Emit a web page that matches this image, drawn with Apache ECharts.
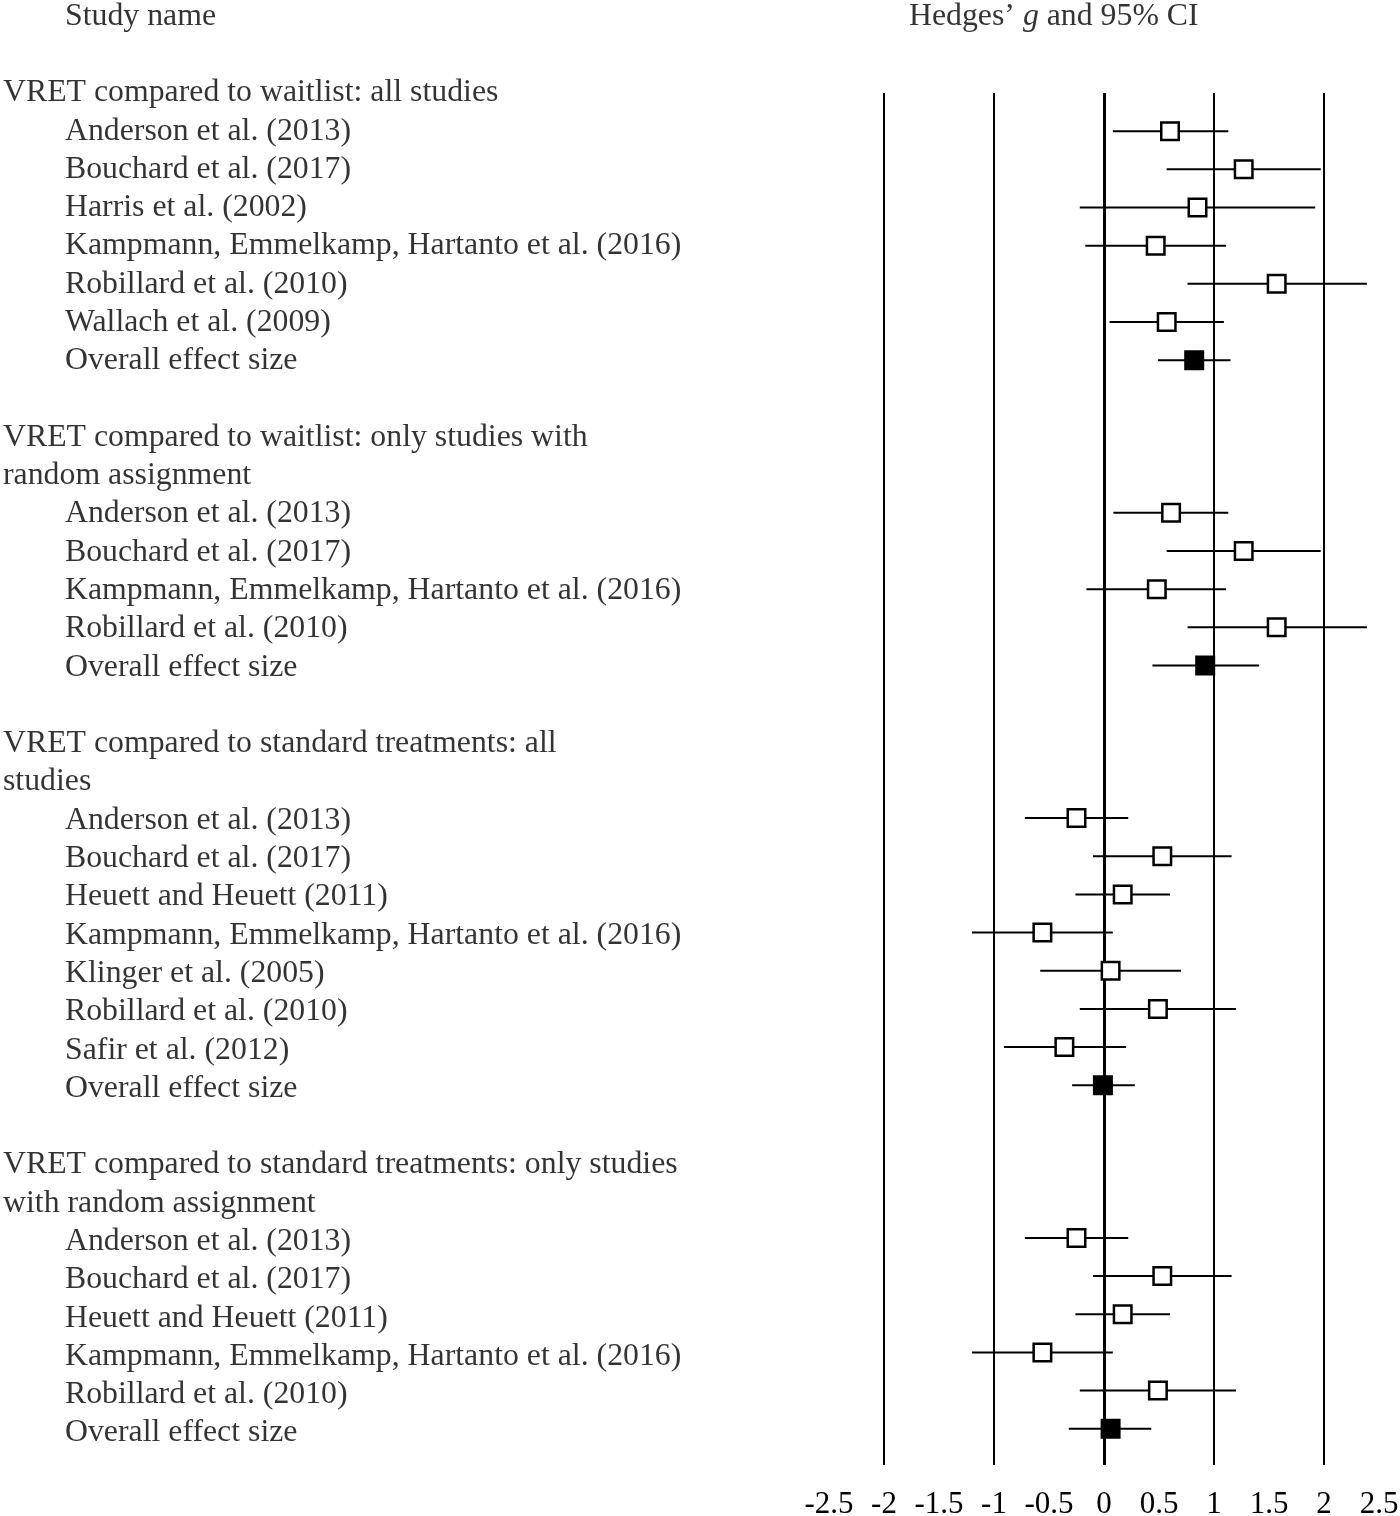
<!DOCTYPE html>
<html>
<head>
<meta charset="utf-8">
<style>html,body{margin:0;padding:0;background:#fff;}#c{width:1400px;height:1516px;}</style>
<script src="https://cdn.jsdelivr.net/npm/echarts@6/dist/echarts.min.js"></script>
</head>
<body>
<div id="c"></div>
<script>
// ---------- data ----------
const columnTitleLeft = "Study name";
const columnTitleRight = "Hedges’ {i|g} and 95% CI";

const groupTitles = [
  ["VRET compared to waitlist: all studies"],
  ["VRET compared to waitlist: only studies with", "random assignment"],
  ["VRET compared to standard treatments: all", "studies"],
  ["VRET compared to standard treatments: only studies", "with random assignment"]
];

const g1Studies = ["Anderson et al. (2013)", "Bouchard et al. (2017)", "Harris et al. (2002)", "Kampmann, Emmelkamp, Hartanto et al. (2016)", "Robillard et al. (2010)", "Wallach et al. (2009)", "Overall effect size"];
const g1Est  = [0.60, 1.27, 0.85, 0.47, 1.57, 0.57, 0.82];
const g1Low  = [0.08, 0.57, -0.22, -0.17, 0.76, 0.05, 0.49];
const g1High = [1.13, 1.97, 1.92, 1.11, 2.39, 1.09, 1.15];

const g2Studies = ["Anderson et al. (2013)", "Bouchard et al. (2017)", "Kampmann, Emmelkamp, Hartanto et al. (2016)", "Robillard et al. (2010)", "Overall effect size"];
const g2Est  = [0.61, 1.27, 0.48, 1.57, 0.92];
const g2Low  = [0.085, 0.57, -0.16, 0.76, 0.44];
const g2High = [1.13, 1.97, 1.11, 2.39, 1.41];

const g3Studies = ["Anderson et al. (2013)", "Bouchard et al. (2017)", "Heuett and Heuett (2011)", "Kampmann, Emmelkamp, Hartanto et al. (2016)", "Klinger et al. (2005)", "Robillard et al. (2010)", "Safir et al. (2012)", "Overall effect size"];
const g3Est  = [-0.25, 0.53, 0.17, -0.56, 0.06, 0.49, -0.36, -0.01];
const g3Low  = [-0.72, -0.10, -0.26, -1.20, -0.58, -0.22, -0.91, -0.29];
const g3High = [0.22, 1.16, 0.60, 0.08, 0.70, 1.20, 0.20, 0.28];

const g4Studies = ["Anderson et al. (2013)", "Bouchard et al. (2017)", "Heuett and Heuett (2011)", "Kampmann, Emmelkamp, Hartanto et al. (2016)", "Robillard et al. (2010)", "Overall effect size"];
const g4Est  = [-0.25, 0.53, 0.17, -0.56, 0.49, 0.06];
const g4Low  = [-0.72, -0.10, -0.26, -1.20, -0.22, -0.32];
const g4High = [0.22, 1.16, 0.60, 0.08, 1.20, 0.43];

const xTickMin = -2.5, xTickMax = 2.5, xTickStep = 0.5;
const referenceLines = [-2, -1, 0, 1, 2];

// ---------- build rows ----------
const groups = [
  {titles: groupTitles[0], studies: g1Studies, est: g1Est, low: g1Low, high: g1High},
  {titles: groupTitles[1], studies: g2Studies, est: g2Est, low: g2Low, high: g2High},
  {titles: groupTitles[2], studies: g3Studies, est: g3Est, low: g3Low, high: g3High},
  {titles: groupTitles[3], studies: g4Studies, est: g4Est, low: g4Low, high: g4High}
];

const HEAD_X = 3, STUDY_X = 65;
const textItems = [];
const markItems = [];
let row = 0;
textItems.push({value: [STUDY_X, -2], name: columnTitleLeft});
textItems.push({value: [909, -2], name: columnTitleRight});
groups.forEach((g, gi) => {
  g.titles.forEach(t => { textItems.push({value: [HEAD_X, row], name: t}); row++; });
  g.studies.forEach((s, i) => {
    textItems.push({value: [STUDY_X, row], name: s});
    const overall = (i === g.studies.length - 1) ? 1 : 0;
    markItems.push([g.low[i], g.high[i], g.est[i], row, overall]);
    row++;
  });
  row++; // blank row between groups
});

const FONT = "'Liberation Serif', 'Times New Roman', serif";
const chart = echarts.init(document.getElementById('c'), null, {renderer: 'canvas'});

const TEXT_STEP = 38.286;
const TEXT_TOP = 93;
const option = {
  animation: false,
  backgroundColor: '#fff',
  grid: [
    {left: 829, right: 21, top: 93, bottom: 51, outerBoundsMode: 'none', containLabel: false},
    {left: 0, right: 0, top: TEXT_TOP - 2 * TEXT_STEP, bottom: 1516 - (TEXT_TOP + 36 * TEXT_STEP), outerBoundsMode: 'none', containLabel: false}
  ],
  xAxis: [
    {
      gridIndex: 0, type: 'value', min: xTickMin, max: xTickMax, interval: xTickStep,
      axisLine: {show: false}, axisTick: {show: false}, splitLine: {show: false},
      axisLabel: {color: '#000', fontFamily: FONT, fontSize: 31, margin: 24, showMinLabel: true, showMaxLabel: true}
    },
    {gridIndex: 1, type: 'value', min: 0, max: 1400, show: false}
  ],
  yAxis: [
    {gridIndex: 0, type: 'value', min: 0, max: 35.95, inverse: true, show: false},
    {gridIndex: 1, type: 'value', min: -2, max: 36, inverse: true, show: false}
  ],
  series: [
    {
      type: 'line', xAxisIndex: 0, yAxisIndex: 0, data: [], z: 1, silent: true,
      markLine: {
        silent: true, symbol: ['none', 'none'], label: {show: false},
        lineStyle: {color: '#000', type: 'solid', width: 2},
        data: referenceLines.map(v => ({xAxis: v, lineStyle: {color: '#000', type: 'solid', width: v === 0 ? 3 : 2}}))
      }
    },
    {
      type: 'custom', xAxisIndex: 0, yAxisIndex: 0, z: 5, data: markItems, clip: false,
      renderItem: function (params, api) {
        const lo = api.value(0), hi = api.value(1), est = api.value(2), r = api.value(3), ov = api.value(4);
        const p1 = api.coord([lo, r]), p2 = api.coord([hi, r]), pc = api.coord([est, r]);
        const s = 17.5;
        return {
          type: 'group',
          children: [
            {type: 'line', shape: {x1: p1[0], y1: p1[1], x2: p2[0], y2: p2[1]}, style: {stroke: '#000', lineWidth: 2}},
            {type: 'rect', shape: {x: pc[0] - s / 2, y: pc[1] - s / 2, width: s, height: s},
             style: {fill: ov ? '#000' : '#fff', stroke: '#000', lineWidth: 2.5}}
          ]
        };
      }
    },
    {
      type: 'scatter', xAxisIndex: 1, yAxisIndex: 1, symbolSize: 0, clip: false, silent: true,
      data: textItems,
      label: {
        show: true, position: 'right', distance: 0, formatter: '{b}',
        color: '#000', fontFamily: FONT, fontSize: 31.8,
        rich: {i: {fontStyle: 'italic', color: '#000', fontFamily: FONT, fontSize: 31.8}}
      }
    }
  ]
};
chart.setOption(option);
</script>
</body>
</html>
